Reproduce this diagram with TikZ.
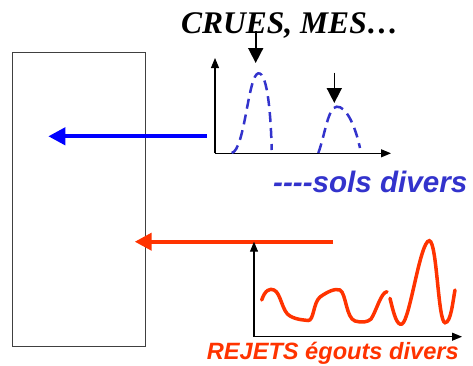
\documentclass[tikz,border=0pt]{standalone}
\usepackage{fontspec}
\setmainfont{Liberation Serif}
\setsansfont{Liberation Sans}
\usetikzlibrary{arrows.meta}
\definecolor{bluearr}{HTML}{0000FF}
\definecolor{bluedash}{HTML}{3333CC}
\definecolor{redc}{HTML}{FF3300}
\tikzset{
  bigarrow/.style={line width=4pt,-{Triangle[length=17pt,width=17pt]}},
  axis/.style={line width=1.1pt,-{Triangle[length=10pt,width=8pt]}},
  marker/.style={line width=1.6pt,-{Triangle[length=15pt,width=15pt]}},
  dashcurve/.style={bluedash,line width=2.5pt,dash pattern=on 10pt off 6pt},
  wave/.style={redc,line width=3.5pt,line cap=round},
}
\begin{document}
\begin{tikzpicture}[x=1pt,y=-1pt]
\useasboundingbox (0,0) rectangle (473,365);
% container
\node[draw=black!75,line width=1pt,minimum width=133.7pt,minimum height=294.4pt,inner sep=0pt] (box) at (78.85,199.5) {};
% top graph axes
\coordinate (o1) at (215,153.3);
\coordinate (y1) at (215,58);
\coordinate (x1) at (391,153.3);
\draw[axis] (o1) -- (y1);
\draw[axis] (o1) -- (x1);
% dashed peaks
\draw[dashcurve] (231.7,153) .. controls (245,150) and (248,75) .. (258.3,73.3)
  .. controls (268,72) and (271,120) .. (271.7,150);
\draw[dashcurve] (318.3,153) .. controls (325,135) and (328,107) .. (336.7,106.7)
  .. controls (346,106) and (355,125) .. (360,148);
% title
\node[anchor=base west,inner sep=0pt,font=\fontsize{31.5}{32}\selectfont\bfseries\itshape] (title) at (181,33.5) {CRUES, MES…};
% markers
\coordinate (m1s) at (255.7,31);
\coordinate (m1e) at (255.7,63);
\coordinate (m2s) at (334.3,72.7);
\coordinate (m2e) at (334.3,103);
\draw[marker] (m1s) -- (m1e);
\draw[marker] (m2s) -- (m2e);
% blue arrow
\coordinate (bs) at (206.7,136.3);
\coordinate (be) at (48.3,136.3);
\draw[bigarrow,bluearr] (bs) -- (be);
\node[anchor=base west,inner sep=0pt,text=bluedash,font=\sffamily\fontsize{29.6}{31}\selectfont\bfseries\itshape] (sols) at (273,192.7) {{-}{-}{-}{-}sols divers};
% red arrow
\coordinate (rs) at (333,241.7);
\coordinate (re) at (134.7,241.7);
\draw[bigarrow,redc] (rs) -- (re);
% bottom graph axes
\coordinate (o2) at (254,336.7);
\coordinate (y2) at (254,241.7);
\coordinate (x2) at (462,336.7);
\draw[axis] (o2) -- (y2);
\draw[axis] (o2) -- (x2);
% red waves
\draw[wave] (261.7,300) .. controls (265,290) and (270,288) .. (274,290)
  .. controls (281,293) and (282,312) .. (290,316)
  .. controls (297,320) and (305,320) .. (308,320.5)
  .. controls (314,321) and (313,303) .. (320,297)
  .. controls (327,292) and (335,288) .. (340,290)
  .. controls (346,293) and (346,318) .. (355,321)
  .. controls (362,323) and (368,322) .. (371,319)
  .. controls (376,312) and (381,292) .. (387,291.7);
\draw[wave] (390,298.3) .. controls (394,315) and (397,326) .. (402,324)
  .. controls (410,320) and (420,241) .. (429.3,240.7)
  .. controls (437,241) and (438,322) .. (445,322.7)
  .. controls (451,323) and (453,300) .. (455,290);
\node[anchor=base west,inner sep=0pt,text=redc,font=\sffamily\fontsize{23.6}{25}\selectfont\bfseries\itshape] (rejets) at (206.7,359) {REJETS égouts divers};
\end{tikzpicture}
\end{document}
